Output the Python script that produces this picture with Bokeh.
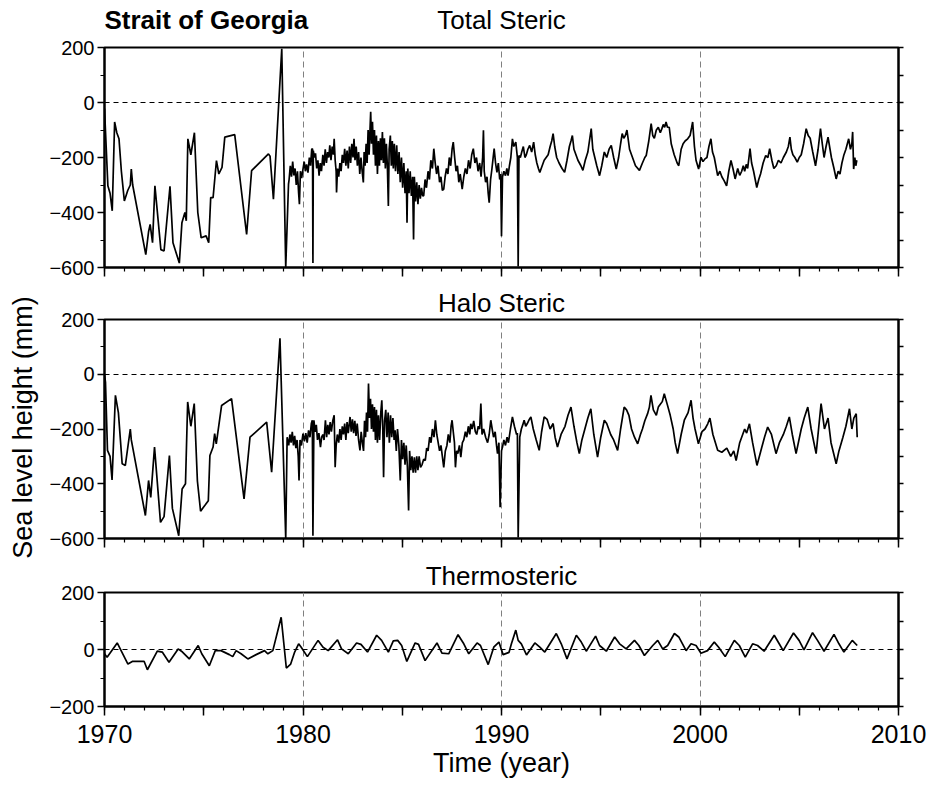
from bokeh.plotting import figure
from bokeh.models import FixedTicker, LinearAxis, Label, Range1d
from bokeh.layouts import column, row
from bokeh.embed import file_html
from bokeh.resources import INLINE

FONT = "Liberation Sans"

# ---------------- data ----------------
total_year = [1970.00, 1970.17, 1970.28, 1970.39, 1970.51, 1970.62, 1970.73, 1970.85, 1971.00, 1971.17,
              1971.30, 1971.35, 1971.42, 1972.08, 1972.22, 1972.30, 1972.42, 1972.54, 1972.84, 1973.00,
              1973.30, 1973.45, 1973.77, 1973.90, 1974.05, 1974.12, 1974.20, 1974.35, 1974.53, 1974.70,
              1974.87, 1975.12, 1975.25, 1975.35, 1975.47, 1975.64, 1975.76, 1975.92, 1976.06, 1976.56,
              1977.16, 1977.41, 1978.26, 1978.34, 1978.51, 1978.93, 1979.13, 1979.27,
              1979.30, 1979.36, 1979.42, 1979.48, 1979.54, 1979.60, 1979.66, 1979.72, 1979.78, 1979.82,
              1979.87, 1979.93, 1980.00, 1980.06, 1980.12, 1980.18, 1980.25, 1980.32, 1980.38, 1980.44,
              1980.48, 1980.50, 1980.52, 1980.57, 1980.63, 1980.69, 1980.75, 1980.81, 1980.87, 1980.93,
              1981.00, 1981.06, 1981.12, 1981.18, 1981.24, 1981.30, 1981.35, 1981.41, 1981.47, 1981.53,
              1981.57, 1981.62, 1981.67, 1981.69, 1981.74, 1981.80, 1981.86, 1981.92, 1981.98, 1982.04,
              1982.10, 1982.16, 1982.22, 1982.28, 1982.34, 1982.40, 1982.46, 1982.52, 1982.57, 1982.62,
              1982.68, 1982.74, 1982.80, 1982.86, 1982.92, 1982.98, 1983.04, 1983.08, 1983.13, 1983.18,
              1983.23, 1983.28, 1983.33, 1983.38, 1983.41, 1983.45, 1983.50, 1983.55, 1983.60, 1983.65,
              1983.70, 1983.75, 1983.80, 1983.85, 1983.90, 1983.95, 1984.00, 1984.05, 1984.10, 1984.15,
              1984.20, 1984.25, 1984.30, 1984.34, 1984.40, 1984.45, 1984.50, 1984.55, 1984.60, 1984.66,
              1984.72, 1984.78, 1984.84, 1984.90, 1984.96, 1985.02, 1985.08, 1985.14, 1985.20, 1985.24,
              1985.28, 1985.34, 1985.40, 1985.46, 1985.52, 1985.57, 1985.61, 1985.67, 1985.73, 1985.79,
              1985.85, 1985.91, 1985.97, 1986.03, 1986.08, 1986.15, 1986.22, 1986.30, 1986.37, 1986.44,
              1986.52, 1986.59, 1986.66, 1986.73, 1986.80, 1986.88, 1986.95, 1987.02, 1987.09, 1987.16,
              1987.23, 1987.30, 1987.37, 1987.44, 1987.51, 1987.57, 1987.64, 1987.71, 1987.78, 1987.85,
              1987.92, 1988.02, 1988.10, 1988.18, 1988.26, 1988.34, 1988.42, 1988.50, 1988.58, 1988.66,
              1988.74, 1988.82, 1988.90, 1988.97, 1989.05, 1989.09, 1989.13, 1989.20, 1989.27, 1989.33,
              1989.38, 1989.45, 1989.52, 1989.58, 1989.63, 1989.70, 1989.77, 1989.84, 1989.91, 1989.96,
              1990.00, 1990.05, 1990.12, 1990.20, 1990.27, 1990.33, 1990.40, 1990.47, 1990.55, 1990.62,
              1990.72, 1990.80, 1990.84, 1990.88, 1990.95, 1991.02, 1991.10, 1991.18, 1991.25, 1991.33,
              1991.42, 1991.52, 1991.62, 1991.70, 1991.78, 1991.86, 1991.93, 1992.05, 1992.15, 1992.25,
              1992.35, 1992.45, 1992.53, 1992.60, 1992.68, 1992.78, 1992.90, 1993.05, 1993.18, 1993.30,
              1993.42, 1993.50, 1993.57, 1993.65, 1993.75, 1993.85, 1994.00, 1994.10, 1994.22, 1994.35,
              1994.45, 1994.52, 1994.60, 1994.70, 1994.80, 1994.94, 1995.05, 1995.18, 1995.30, 1995.42,
              1995.53, 1995.65, 1995.78, 1995.90, 1996.00, 1996.08, 1996.16, 1996.24, 1996.32, 1996.45,
              1996.60, 1996.75, 1996.95, 1997.10, 1997.22, 1997.29, 1997.42, 1997.54, 1997.62, 1997.70,
              1997.80, 1997.90, 1998.00, 1998.08, 1998.15, 1998.22, 1998.29, 1998.36, 1998.45, 1998.55,
              1998.70, 1998.85, 1998.93, 1999.05, 1999.15, 1999.25, 1999.38, 1999.50, 1999.58, 1999.63,
              1999.72, 1999.80, 1999.93, 2000.05, 2000.15, 2000.25, 2000.35, 2000.45, 2000.55, 2000.63,
              2000.72, 2000.89, 2001.00, 2001.10, 2001.22, 2001.34, 2001.45, 2001.56, 2001.66, 2001.77,
              2001.90, 2002.00, 2002.10, 2002.18, 2002.25, 2002.33, 2002.40, 2002.52, 2002.60, 2002.70,
              2002.86, 2002.96, 2003.05, 2003.18, 2003.31, 2003.42, 2003.51, 2003.62, 2003.72, 2003.84,
              2003.95, 2004.08, 2004.20, 2004.35, 2004.45, 2004.53, 2004.60, 2004.68, 2004.78, 2004.90,
              2005.00, 2005.10, 2005.22, 2005.35, 2005.45, 2005.55, 2005.68, 2005.82, 2005.95, 2006.07,
              2006.16, 2006.25, 2006.35, 2006.45, 2006.55, 2006.62, 2006.75, 2006.86, 2006.96, 2007.05,
              2007.15, 2007.24, 2007.35, 2007.49, 2007.58, 2007.65, 2007.69, 2007.74, 2007.80, 2007.85,
              2007.90]
total_mm = [-22, -303, -330, -394, -71, -110, -132, -250, -358, -320,
            -300, -242, -300, -553, -470, -443, -510, -303, -535, -540,
            -305, -510, -584, -437, -400, -430, -132, -190, -110, -400,
            -492, -485, -510, -346, -346, -211, -260, -236, -126, -117,
            -480, -248, -187, -195, -352, 195, -600, -297,
            -280, -230, -270, -215, -265, -240, -300, -250, -330, -370,
            -250, -275, -242, -215, -250, -225, -255, -200, -230, -170,
            -168, -584, -175, -200, -185, -240, -210, -266, -220, -250,
            -190, -230, -170, -220, -180, -200, -156, -210, -160, -190,
            -132, -210, -250, -327, -240, -270, -220, -250, -190, -220,
            -168, -230, -175, -240, -160, -220, -150, -200, -132, -210,
            -160, -230, -180, -260, -200, -250, -291, -180, -230, -150,
            -220, -100, -190, -90, -34, -150, -70, -190, -100, -230,
            -120, -260, -140, -230, -130, -210, -107, -220, -130, -240,
            -150, -230, -376, -170, -120, -230, -140, -240, -150, -250,
            -156, -260, -180, -290, -200, -310, -220, -330, -250, -437,
            -240, -330, -250, -340, -270, -498, -270, -360, -290, -370,
            -300, -350, -310, -340, -339, -280, -310, -250, -280, -210,
            -240, -168, -220, -260, -230, -290, -270, -320, -315, -270,
            -240, -260, -200, -230, -170, -144, -200, -250, -230, -290,
            -260, -315, -270, -240, -260, -210, -240, -190, -168, -220,
            -200, -250, -220, -270, -200, -101, -250, -290, -270, -330,
            -364, -280, -240, -200, -168, -220, -254, -220, -280, -260,
            -486, -270, -250, -266, -240, -266, -230, -200, -132, -160,
            -144, -200, -596, -193, -200, -180, -160, -200, -190, -170,
            -156, -180, -144, -190, -220, -240, -254, -230, -210, -200,
            -190, -160, -140, -113, -160, -200, -220, -240, -254, -210,
            -160, -140, -120, -170, -190, -210, -230, -247, -210, -180,
            -130, -95, -170, -200, -230, -266, -230, -180, -200, -170,
            -156, -200, -242, -200, -150, -113, -130, -120, -100, -170,
            -200, -230, -247, -220, -200, -193, -140, -77, -120, -130,
            -100, -90, -110, -95, -80, -90, -71, -90, -90, -150,
            -190, -220, -230, -170, -150, -140, -132, -120, -90, -71,
            -160, -210, -242, -199, -215, -205, -200, -160, -132, -180,
            -200, -266, -250, -270, -285, -303, -250, -211, -240, -278,
            -240, -265, -250, -230, -250, -225, -240, -168, -220, -250,
            -309, -280, -260, -220, -193, -200, -168, -210, -240, -230,
            -210, -220, -200, -180, -160, -126, -170, -190, -200, -217,
            -200, -190, -150, -95, -120, -130, -180, -230, -170, -95,
            -150, -200, -160, -126, -170, -200, -240, -278, -250, -260,
            -220, -193, -170, -132, -170, -150, -107, -242, -200, -230,
            -210]

halo_year = [1970.00, 1970.05, 1970.15, 1970.28, 1970.38, 1970.55, 1970.70, 1970.89, 1971.05, 1971.30,
             1971.35, 1972.06, 1972.22, 1972.33, 1972.52, 1972.82, 1973.00, 1973.27, 1973.42, 1973.74,
             1973.91, 1974.08, 1974.19, 1974.35, 1974.52, 1974.68, 1974.84, 1975.07, 1975.23, 1975.31,
             1975.47, 1975.55, 1975.63, 1975.90, 1976.40, 1977.03, 1977.33, 1978.17, 1978.42, 1978.84,
             1979.13, 1979.20,
             1979.28, 1979.34, 1979.40, 1979.46, 1979.52, 1979.58, 1979.64, 1979.70, 1979.76, 1979.80,
             1979.85, 1979.92, 1980.00, 1980.07, 1980.14, 1980.21, 1980.28, 1980.35, 1980.42, 1980.47,
             1980.50, 1980.55, 1980.61, 1980.67, 1980.73, 1980.80, 1980.88, 1980.94, 1981.00, 1981.06,
             1981.13, 1981.19, 1981.25, 1981.31, 1981.37, 1981.43, 1981.50, 1981.57, 1981.62, 1981.67,
             1981.73, 1981.80, 1981.86, 1981.92, 1981.98, 1982.04, 1982.10, 1982.16, 1982.22, 1982.28,
             1982.37, 1982.43, 1982.49, 1982.55, 1982.61, 1982.67, 1982.73, 1982.80, 1982.87, 1982.93,
             1982.99, 1983.05, 1983.10, 1983.15, 1983.20, 1983.25, 1983.30, 1983.35, 1983.40, 1983.45,
             1983.50, 1983.55, 1983.60, 1983.65, 1983.70, 1983.75, 1983.80, 1983.86, 1983.92, 1983.97,
             1984.02, 1984.06, 1984.11, 1984.17, 1984.23, 1984.29, 1984.35, 1984.41, 1984.47, 1984.53,
             1984.59, 1984.64, 1984.70, 1984.76, 1984.83, 1984.90, 1984.96, 1985.02, 1985.08, 1985.14,
             1985.20, 1985.26, 1985.32, 1985.37, 1985.43, 1985.49, 1985.55, 1985.61, 1985.67, 1985.73,
             1985.79, 1985.85, 1985.92, 1986.00, 1986.08, 1986.16, 1986.23, 1986.30, 1986.38, 1986.45,
             1986.52, 1986.60, 1986.67, 1986.74, 1986.81, 1986.88, 1986.95, 1987.02, 1987.09, 1987.17,
             1987.25, 1987.32, 1987.40, 1987.46, 1987.51, 1987.57, 1987.63, 1987.68, 1987.74, 1987.80,
             1987.88, 1987.95, 1988.03, 1988.10, 1988.18, 1988.25, 1988.33, 1988.40, 1988.45, 1988.52,
             1988.60, 1988.68, 1988.75, 1988.83, 1988.90, 1988.96, 1989.02, 1989.10, 1989.20, 1989.30,
             1989.38, 1989.46, 1989.53, 1989.60, 1989.68, 1989.75, 1989.80, 1989.87, 1989.93, 1990.00,
             1990.05, 1990.12, 1990.20, 1990.28, 1990.35, 1990.45, 1990.55, 1990.65, 1990.76, 1990.80,
             1990.84, 1990.92, 1991.00, 1991.07, 1991.14, 1991.22, 1991.30, 1991.40, 1991.48, 1991.60,
             1991.75, 1991.90, 1992.02, 1992.15, 1992.30, 1992.45, 1992.60, 1992.70, 1992.82, 1993.00,
             1993.20, 1993.35, 1993.50, 1993.65, 1993.80, 1993.92, 1994.05, 1994.20, 1994.35, 1994.50,
             1994.65, 1994.84, 1995.00, 1995.18, 1995.30, 1995.40, 1995.50, 1995.65, 1995.85, 1996.00,
             1996.18, 1996.30, 1996.42, 1996.55, 1996.70, 1996.86, 1997.00, 1997.10, 1997.22, 1997.36,
             1997.45, 1997.53, 1997.65, 1997.80, 1997.90, 1998.00, 1998.10, 1998.20, 1998.35, 1998.50,
             1998.65, 1998.75, 1998.87, 1999.05, 1999.21, 1999.40, 1999.55, 1999.65, 1999.75, 1999.92,
             2000.10, 2000.25, 2000.39, 2000.50, 2000.65, 2000.89, 2001.10, 2001.35, 2001.55, 2001.70,
             2001.82, 2002.00, 2002.15, 2002.25, 2002.35, 2002.49, 2002.65, 2002.87, 2003.10, 2003.25,
             2003.41, 2003.60, 2003.83, 2004.00, 2004.20, 2004.35, 2004.50, 2004.65, 2004.84, 2005.10,
             2005.25, 2005.43, 2005.60, 2005.85, 2006.00, 2006.10, 2006.27, 2006.45, 2006.60, 2006.86,
             2007.00, 2007.20, 2007.35, 2007.53, 2007.65, 2007.75, 2007.87, 2007.92]
halo_mm = [0, -30, -278, -300, -386, -77, -140, -327, -333, -200,
           -240, -516, -388, -450, -266, -541, -520, -297, -490, -590,
           -419, -400, -101, -190, -107, -390, -500, -478, -462, -297,
           -266, -217, -254, -114, -89, -455, -230, -175, -358, 131,
           -600, -230,
           -260, -220, -250, -210, -260, -225, -270, -240, -300, -388,
           -240, -260, -217, -245, -215, -250, -205, -230, -180, -168,
           -590, -168, -210, -185, -240, -215, -266, -230, -220, -240,
           -168, -230, -185, -220, -175, -210, -170, -150, -340, -260,
           -220, -250, -200, -240, -190, -220, -180, -240, -175, -215,
           -156, -210, -165, -215, -170, -225, -180, -240, -278, -210,
           -250, -280, -170, -230, -140, -210, -34, -160, -90, -200,
           -110, -210, -120, -240, -130, -250, -150, -240, -140, -95,
           -200, -376, -170, -130, -230, -140, -250, -150, -230, -160,
           -240, -205, -280, -200, -260, -388, -240, -310, -250, -330,
           -260, -340, -498, -280, -350, -300, -360, -303, -360, -300,
           -350, -300, -340, -330, -310, -315, -270, -280, -230, -250,
           -200, -230, -168, -220, -250, -280, -260, -300, -340, -280,
           -260, -220, -250, -190, -168, -210, -250, -340, -280, -290,
           -260, -303, -250, -240, -210, -230, -190, -220, -181, -200,
           -170, -210, -220, -190, -200, -107, -220, -200, -230, -250,
           -220, -168, -200, -230, -210, -260, -290, -250, -486, -280,
           -266, -240, -260, -230, -250, -200, -156, -190, -220, -215,
           -596, -230, -200, -185, -168, -190, -180, -165, -156, -200,
           -240, -278, -210, -156, -165, -200, -180, -230, -266, -220,
           -190, -150, -120, -190, -250, -290, -240, -200, -160, -126,
           -220, -303, -230, -168, -180, -200, -220, -240, -278, -200,
           -120, -130, -150, -200, -230, -254, -220, -200, -170, -144,
           -120, -77, -130, -150, -120, -110, -100, -71, -110, -150,
           -200, -250, -290, -220, -168, -140, -95, -160, -200, -254,
           -210, -200, -181, -160, -220, -278, -285, -270, -300, -280,
           -315, -250, -220, -200, -215, -181, -250, -333, -270, -230,
           -193, -220, -290, -250, -220, -190, -156, -220, -290, -200,
           -160, -120, -200, -290, -180, -107, -200, -160, -250, -327,
           -280, -230, -190, -126, -200, -160, -144, -230]

thermo_year = [1970.00, 1970.13, 1970.64, 1971.18, 1971.40, 1972.00, 1972.16, 1972.66, 1972.91, 1973.25,
               1973.71, 1973.93, 1974.27, 1974.72, 1974.90, 1975.28, 1975.58, 1975.87, 1976.29, 1976.46,
               1976.63, 1976.88, 1977.22, 1977.64, 1978.06, 1978.23, 1978.48, 1978.90, 1979.16, 1979.38,
               1979.58, 1979.78, 1979.91, 1980.22, 1980.42, 1980.76, 1981.01, 1981.27, 1981.74, 1981.94,
               1982.28, 1982.70, 1982.92, 1983.25, 1983.71, 1983.96, 1984.30, 1984.55, 1984.77, 1984.97,
               1985.23, 1985.65, 1985.82, 1986.15, 1986.75, 1987.00, 1987.34, 1987.81, 1988.10, 1988.35,
               1988.77, 1988.94, 1989.33, 1989.61, 1989.87,
               1990.08, 1990.38, 1990.50, 1990.72, 1990.84, 1991.00, 1991.26, 1991.68, 1991.93, 1992.18,
               1992.76, 1993.01, 1993.30, 1993.77, 1994.02, 1994.27, 1994.74, 1994.94, 1995.28, 1995.70,
               1995.95, 1996.28, 1996.70, 1996.92, 1997.20, 1997.62, 1997.87, 1998.12, 1998.37, 1998.71,
               1998.93, 1999.30, 1999.55, 1999.80, 2000.05, 2000.38, 2000.72, 2000.94, 2001.27, 2001.73,
               2001.98, 2002.28, 2002.65, 2002.90, 2003.23, 2003.74, 2003.99, 2004.19, 2004.71, 2004.99,
               2005.24, 2005.67, 2005.92, 2006.25, 2006.75, 2007.00, 2007.25, 2007.67, 2007.92]
thermo_mm = [-15, -27, 23, -51, -42, -42, -71, -6, -9, -45,
             2, -9, -33, 14, -15, -57, -4, -4, -18, -25,
             -4, -15, -33, -18, -4, -15, -4, 113, -65, -51,
             -9, 20, 8, -25, -4, 32, 8, -4, 34, 2,
             -15, 23, 18, -9, 50, 32, -9, 30, 32, 14,
             -42, 23, 18, -39, 23, -13, -15, 52, 20, -15,
             23, 14, -53, 8, 26,
             -18, -10, 20, 68, 32, 20, -19, 23, 8, -9,
             56, 20, -33, 50, 26, -6, 47, 14, -6, 44,
             20, 2, 32, 14, -21, 14, 32, 2, 14, 56,
             44, -4, 20, 14, -13, -4, 26, 8, -25, 32,
             14, -27, 20, 14, -6, 50, 20, -4, 58, 32,
             -1, 59, 32, -6, 53, 20, -9, 32, 14]

x_major = [1970, 1975, 1980, 1985, 1990, 1995, 2000, 2005, 2010]
x_minor = list(range(1970, 2011))
x_labels = {1970: "1970", 1975: "", 1980: "1980", 1985: "", 1990: "1990", 1995: "",
            2000: "2000", 2005: "", 2010: "2010"}
decade_lines = [1980, 1990, 2000]

big_major = [-600, -400, -200, 0, 200]
big_minor = [-500, -300, -100, 100]
big_right = [-600, -500, -400, -300, -200, -100, 0, 100, 200]
small_major = [-200, 0, 200]
small_minor = [-100, 100]
small_right = [-200, -100, 0, 100, 200]


def panel(xs, ys, title, ylo, yhi, major, minor, right_ticks, frame_h, top, bottom, show_x):
    p = figure(frame_width=794, frame_height=frame_h,
               min_border_left=64, min_border_right=37,
               min_border_top=top, min_border_bottom=bottom,
               x_range=Range1d(1970, 2010), y_range=Range1d(ylo, yhi),
               toolbar_location=None, output_backend="svg")
    if title:
        p.title.text = title
        p.title.align = "center"
        p.title.text_font = FONT
        p.title.text_font_size = "26px"
        p.title.text_font_style = "normal"
        p.title.text_color = "black"
        p.title.standoff = 4
    else:
        p.title.visible = False
    p.background_fill_color = "white"
    p.border_fill_color = "white"
    p.outline_line_color = "black"
    p.outline_line_width = 2

    xa = p.xaxis[0]
    xa.ticker = FixedTicker(ticks=x_major, minor_ticks=x_minor)
    xa.major_tick_in = 0
    xa.major_tick_out = 9
    xa.minor_tick_in = 0
    xa.minor_tick_out = 4
    xa.axis_line_width = 2
    xa.major_tick_line_width = 1.5
    xa.minor_tick_line_width = 1.2
    if show_x:
        xa.major_label_overrides = x_labels
        xa.major_label_text_font = FONT
        xa.major_label_text_font_size = "25px"
        xa.major_label_text_color = "black"
        xa.major_label_standoff = 9
        xa.axis_label = "Time (year)"
        xa.axis_label_text_font = FONT
        xa.axis_label_text_font_size = "27px"
        xa.axis_label_text_font_style = "normal"
        xa.axis_label_text_color = "black"
        xa.axis_label_standoff = 2
    else:
        xa.major_label_overrides = {t: "" for t in x_major}
        xa.major_label_text_color = None

    ya = p.yaxis[0]
    ya.ticker = FixedTicker(ticks=major, minor_ticks=minor)
    ya.major_tick_in = 0
    ya.major_tick_out = 7
    ya.minor_tick_in = 0
    ya.minor_tick_out = 4
    ya.axis_line_width = 2
    ya.major_tick_line_width = 1.5
    ya.minor_tick_line_width = 1.2
    ya.major_label_text_font = FONT
    ya.major_label_text_font_size = "20px"
    ya.major_label_text_color = "black"
    ya.major_label_standoff = 3

    ra = LinearAxis(ticker=FixedTicker(ticks=right_ticks, minor_ticks=[]))
    ra.major_tick_in = 0
    ra.major_tick_out = 5
    ra.axis_line_width = 2
    ra.major_tick_line_width = 1.3
    ra.major_label_overrides = {t: "" for t in right_ticks}
    ra.major_label_text_color = None
    ra.major_label_standoff = 0
    p.add_layout(ra, "right")

    p.xgrid.ticker = FixedTicker(ticks=decade_lines)
    p.xgrid.grid_line_color = "#808080"
    p.xgrid.grid_line_dash = "6 4"
    p.xgrid.grid_line_width = 1
    p.ygrid.ticker = FixedTicker(ticks=[0])
    p.ygrid.grid_line_color = "black"
    p.ygrid.grid_line_dash = "5 4"
    p.ygrid.grid_line_width = 1.2

    p.line(xs, ys, line_color="black", line_width=1.7)
    return p


# header strip above panel 1 (its frame is aligned with the panels' frames)
header = figure(frame_width=794, frame_height=35, min_border_left=64, min_border_right=37,
                min_border_top=0, min_border_bottom=0, x_range=Range1d(0, 794), y_range=Range1d(0, 35),
                x_axis_type=None, y_axis_type=None, toolbar_location=None, output_backend="svg")
header.outline_line_color = None
header.background_fill_color = "white"
header.border_fill_color = "white"
header.xgrid.visible = False
header.ygrid.visible = False
header.title.visible = False
header.add_layout(Label(x=0, y=16, text="Strait of Georgia", text_font=FONT,
                        text_font_size="26px", text_font_style="bold", text_color="black",
                        text_align="left", text_baseline="alphabetic"))
header.add_layout(Label(x=397, y=16, text="Total Steric", text_font=FONT,
                        text_font_size="26px", text_color="black",
                        text_align="center", text_baseline="alphabetic"))

p1 = panel(total_year, total_mm, None, -600, 200, big_major, big_minor, big_right, 220, 12, 15, False)
p2 = panel(halo_year, halo_mm, "Halo Steric", -600, 200, big_major, big_minor, big_right, 219, 37, 17, False)
p3 = panel(thermo_year, thermo_mm, "Thermosteric", -200, 200, small_major, small_minor, small_right, 114, 37, 80, True)

side = figure(frame_width=40, frame_height=786, min_border_left=0, min_border_right=0,
              min_border_top=0, min_border_bottom=0, x_range=Range1d(0, 40), y_range=Range1d(0, 786),
              x_axis_type=None, y_axis_type=None, toolbar_location=None, output_backend="svg")
side.outline_line_color = None
side.xgrid.visible = False
side.ygrid.visible = False
side.title.visible = False
side.add_layout(Label(x=22, y=359, text="Sea level height (mm)", angle=90, angle_units="deg",
                      text_font=FONT, text_font_size="27px", text_color="black",
                      text_align="center", text_baseline="middle"))

layout = row(side, column(header, p1, p2, p3))
open("out.html", "w").write(file_html(layout, INLINE))
